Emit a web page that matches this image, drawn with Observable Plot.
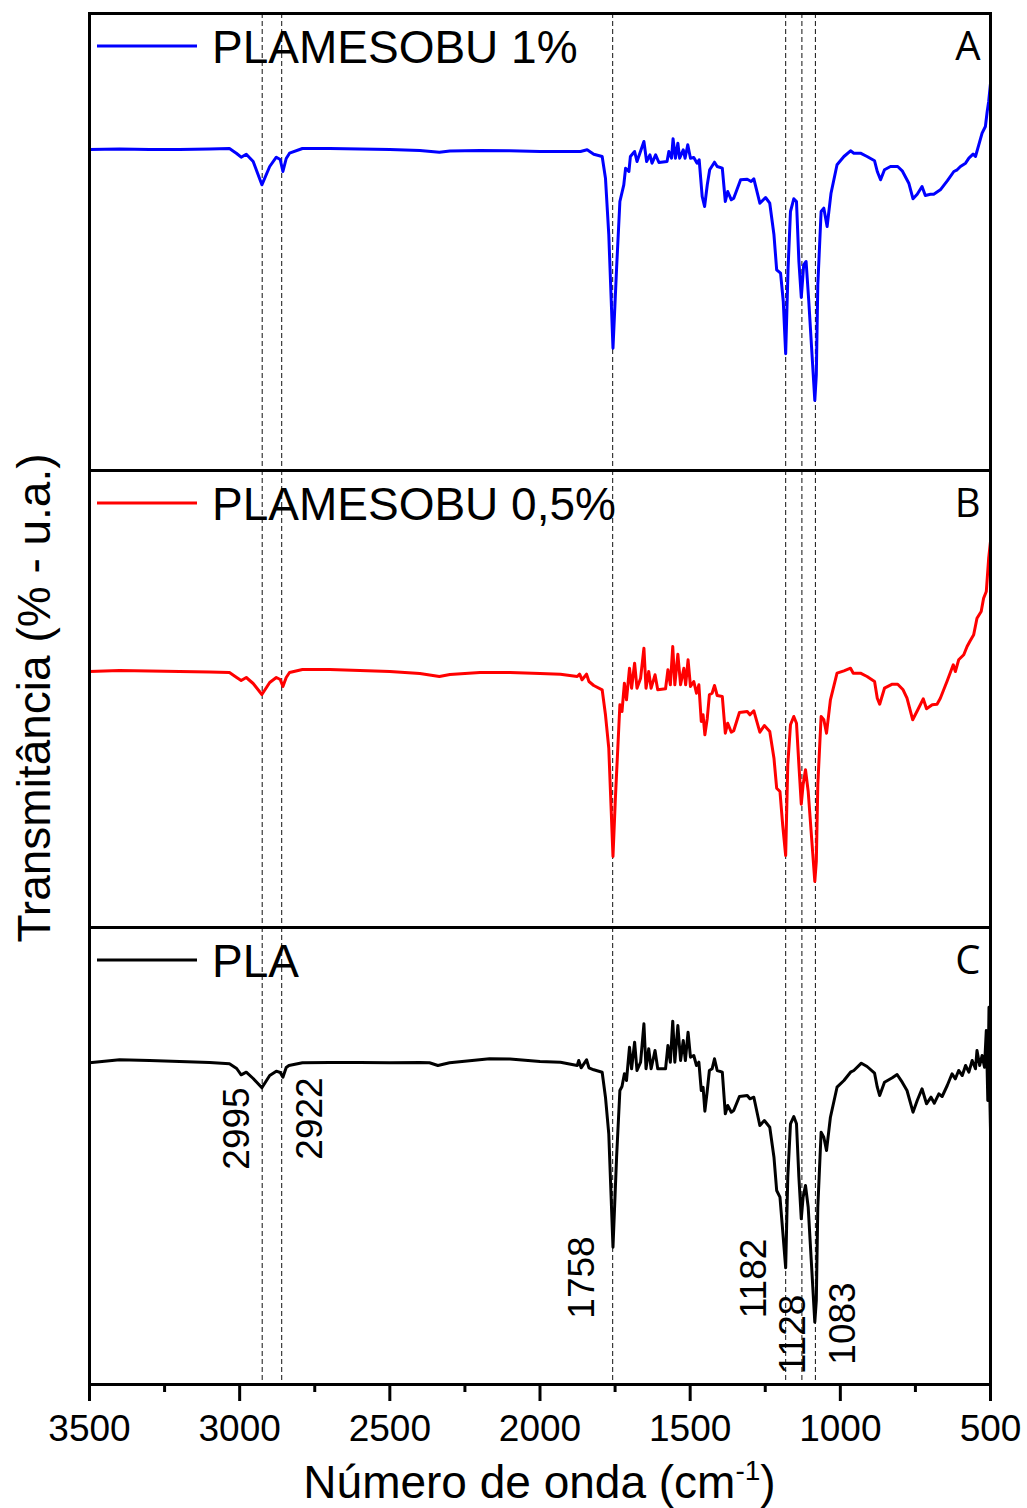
<!DOCTYPE html>
<html><head><meta charset="utf-8">
<script src="https://cdn.jsdelivr.net/npm/d3@7"></script>
<script src="https://cdn.jsdelivr.net/npm/@observablehq/plot@0.6"></script>
<style>body{margin:0;background:#fff}</style>
</head><body><div id="chart"></div>
<script>
const panels = ["A", "B", "C"];
const seriesNames = ["PLAMESOBU 1%", "PLAMESOBU 0,5%", "PLA"];
const seriesColors = ["#0000ff", "#ff0000", "#000000"];
const majorTicks = [3500, 3000, 2500, 2000, 1500, 1000, 500];
const minorTicks = [3250, 2750, 2250, 1750, 1250, 750];
const peakLines = [2925, 2860, 1758, 1182, 1128, 1083];
const annotLabels = ["2995", "2922", "1758", "1182", "1128", "1083"];
const annotX = [3007, 2764, 1858, 1286, 1156, 989];
const annotY = [256, 266, 107, 106, 50, 61];

// [wavenumber (cm-1), transmittance (u.a.)]
const specA = [[3500,321],[3400,321.5],[3300,321],[3200,321],[3100,321.5],[3034,322],[3010,317],[2995,313.3],[2978,316.3],[2955,309],[2926,285.7],[2900,304],[2878,313.3],[2865,311],[2856,299],[2845,312],[2834,317.3],[2791,322],[2700,322],[2600,321.5],[2500,321],[2400,320],[2335,318.3],[2300,319.5],[2200,320],[2101,319.7],[2000,319],[1932,319],[1865,319],[1843,320.7],[1821,316.3],[1793,314],[1782,292.3],[1771,236],[1757,122.3],[1745,202.3],[1734,269],[1721,285.7],[1715,302.3],[1704,299],[1699,314],[1685,319],[1677,309],[1654,329],[1645,309],[1634,315.7],[1627,307.3],[1615,315.7],[1604,308],[1577,309],[1571,319],[1562,312.3],[1557,331.7],[1549,312.3],[1541,327.3],[1535,312.3],[1523,320.7],[1517,312.3],[1508,325.7],[1499,312.3],[1488,313],[1477,307.3],[1470,310.7],[1460,274],[1452,264],[1443,285.7],[1435,300.7],[1419,308.3],[1410,304],[1393,302.3],[1383,269],[1375,279],[1363,270.7],[1355,272.3],[1332,290.7],[1310,291.3],[1297,289],[1288,291.7],[1268,267.3],[1249,273],[1235,267.3],[1221,235.7],[1212,200.7],[1199,197.3],[1190,169],[1182,116.7],[1174,202.3],[1166,259],[1155,271.7],[1146,269],[1138,209],[1130,173],[1122,205.7],[1114,209],[1105,169],[1085,70],[1080,95.7],[1075,185.7],[1064,259],[1055,262.3],[1044,244],[1031,277.3],[1011,305.7],[988,314],[966,319.7],[955,317.3],[933,317.3],[911,314],[886,309.7],[877,299],[866,290.7],[853,300.7],[833,304],[809,304],[794,299.7],[772,287.3],[758,271.7],[744,276.3],[728,284],[717,275],[700,276.3],[689,276.3],[667,280.7],[644,289.7],[622,299],[611,300.7],[600,304],[583,307.3],[572,312.3],[558,316.3],[550,314],[539,325.7],[528,337.3],[517,344],[511,359],[506,369],[500,387]];

const specB = [[3500,256],[3400,257],[3300,256.5],[3200,256],[3100,255.5],[3034,255],[3010,250],[2995,247],[2978,250],[2955,244],[2926,233],[2900,245],[2878,250],[2865,248],[2856,241],[2845,250],[2834,255],[2791,258],[2700,258],[2600,257],[2500,256],[2400,254],[2335,251],[2300,253],[2200,255],[2100,255],[2000,254],[1932,253.3],[1876,251],[1868,253.3],[1860,247.7],[1845,253.3],[1837,246],[1821,242],[1793,237.7],[1782,212.7],[1771,179.3],[1757,71],[1749,129.3],[1734,222.7],[1727,216],[1719,244.3],[1712,227.7],[1702,259.3],[1695,239.3],[1685,264.3],[1677,239.3],[1665,249.3],[1654,279.3],[1647,239.3],[1638,256],[1630,239.3],[1617,252.7],[1608,237.7],[1582,238.7],[1574,257.7],[1566,242.7],[1558,281],[1551,242.7],[1541,273.3],[1532,242.7],[1521,259.3],[1515,242.7],[1507,267.7],[1499,241],[1488,246],[1479,234.3],[1471,242.7],[1463,206],[1457,212.7],[1451,192.7],[1443,209.3],[1436,232.7],[1427,234.3],[1419,242],[1410,232],[1393,231],[1383,194.3],[1375,204.3],[1363,195.3],[1355,196.7],[1336,215],[1310,216],[1301,212.7],[1288,216.7],[1268,195.3],[1253,202],[1235,196],[1221,169.3],[1212,139.3],[1201,136],[1192,102.7],[1182,72],[1175,162.7],[1166,202.7],[1155,211],[1146,204.3],[1138,162.7],[1130,123.3],[1124,142.7],[1116,157.7],[1107,136],[1085,46],[1080,66],[1075,142.7],[1064,211],[1055,207.7],[1046,194.3],[1033,227.7],[1011,254.3],[988,256.7],[966,259.3],[957,254.3],[933,254.3],[911,251],[886,246],[877,229.3],[869,223.3],[853,239.3],[827,243.3],[809,243.3],[791,237.7],[778,229.3],[759,207.7],[742,217.7],[724,228.7],[713,218.7],[694,222.7],[678,223.3],[667,229.3],[644,246.7],[624,262.7],[617,256],[606,267.7],[589,272.7],[578,281],[569,286],[556,292.7],[545,309.3],[531,316],[523,329.3],[514,336],[506,369.3],[500,386]];

const specC = [[3500,321.7],[3400,324.7],[3300,324],[3200,323],[3100,322],[3034,320.7],[3010,316],[2995,309.7],[2978,312.3],[2955,306],[2926,296.7],[2900,309],[2878,313.3],[2865,312],[2856,307.3],[2845,317],[2836,319],[2791,321.7],[2700,322],[2600,322],[2500,321.7],[2400,322],[2368,321.7],[2340,319],[2301,321.7],[2168,325.7],[2100,325.5],[2000,323],[1932,322.3],[1876,319],[1871,324],[1863,316.7],[1845,324.7],[1837,316.7],[1821,314.7],[1793,312.3],[1782,287.3],[1771,250.7],[1757,137.3],[1745,227.3],[1734,294],[1727,298],[1719,310.7],[1712,304],[1702,337.3],[1695,315.7],[1685,342.3],[1677,314],[1665,322.3],[1654,360.7],[1647,315.7],[1638,335.7],[1630,315.7],[1617,334],[1608,315.7],[1582,315.7],[1574,339],[1566,322.3],[1558,363.3],[1551,322.3],[1541,359],[1532,324],[1523,344],[1516,324],[1507,352.3],[1499,327.3],[1488,329],[1479,319],[1471,322.3],[1463,294],[1457,297.3],[1451,273.3],[1443,294],[1436,314],[1427,315.7],[1419,325.7],[1410,314],[1393,312.3],[1383,270.7],[1375,279],[1363,272.3],[1355,274],[1336,288],[1310,289],[1301,285.7],[1288,287.3],[1268,259],[1253,264],[1235,257.3],[1221,227.3],[1212,194],[1201,187.3],[1192,154],[1182,116.7],[1175,207.3],[1166,260.7],[1155,268],[1146,260.7],[1138,207.3],[1130,165.7],[1124,187.3],[1116,199],[1107,177.3],[1085,62.3],[1080,84],[1075,177.3],[1064,252.3],[1055,247.3],[1046,234],[1033,267.3],[1011,297.3],[988,304],[966,312.3],[955,314],[930,321.3],[911,318],[886,311.3],[877,297.3],[869,289],[853,302.3],[827,306.7],[811,310],[794,302.3],[778,294],[758,272.3],[744,284],[728,295.7],[713,280.7],[698,287.3],[687,281.3],[672,290.7],[661,288],[644,299],[628,310.7],[617,305.7],[606,314],[594,309],[583,319],[572,312.3],[561,324],[550,315.7],[545,334],[536,319],[528,329],[520,317.3],[514,354],[509,284],[505,377.3],[502,284],[500,254]];

const rows = [];
[specA, specB, specC].forEach((s, i) => s.forEach(([wn, t]) => rows.push({panel: panels[i], wn, t})));
const annots = annotLabels.map((label, i) => ({label, x: annotX[i], y: annotY[i]}));

const W = 1027, H = 1508, mL = 89, mR = 37, mT = 12, mB = 124;
const FONT = "'Liberation Sans', Arial, sans-serif";

const plot = Plot.plot({
  width: W, height: H, marginLeft: mL, marginRight: mR, marginTop: mT, marginBottom: mB,
  style: {fontFamily: FONT, background: "white", color: "black", overflow: "visible"},
  x: {domain: [3500, 500]},
  y: {domain: [0, 457], axis: null},
  fy: {domain: panels, padding: 0, axis: null},
  color: {domain: panels, range: seriesColors},
  marks: [
    Plot.ruleX(peakLines, {x: d => d, stroke: "#111", strokeWidth: 1, strokeDasharray: "5,3"}),
    Plot.line(rows, {x: "wn", y: "t", fy: "panel", stroke: "panel", z: "panel", strokeWidth: 3}),
    Plot.frame({stroke: "black", strokeWidth: 3}),
    Plot.axisX(minorTicks, {tickSize: 8, strokeWidth: 3, tickFormat: () => "", label: null}),
    Plot.axisX(majorTicks, {tickSize: 17, tickPadding: 13, strokeWidth: 3, fontSize: 37, tickFormat: d => String(d), label: null}),
    Plot.text(panels, {fy: d => d, text: d => d, frameAnchor: "top-right", dx: -10, dy: 18, lineAnchor: "top", fontSize: 40, fontFamily: "'Open Sans', sans-serif"}),
    Plot.text(annots, {x: "x", y: "y", text: "label", fy: () => "C", rotate: -90, fontSize: 37})
  ]
});

const svgNode = plot.tagName.toLowerCase() === "svg" ? plot : plot.querySelector("svg");
const svg = d3.select(svgNode);
const fyScale = plot.scale("fy");
panels.forEach((p, i) => {
  let top = fyScale.apply(p);
  if (top < mT) top += mT;
  svg.append("line").attr("x1", mL + 8).attr("x2", mL + 108)
    .attr("y1", top + 33).attr("y2", top + 33)
    .attr("stroke", seriesColors[i]).attr("stroke-width", 3);
  svg.append("text").attr("x", mL + 123).attr("y", top + 50)
    .attr("text-anchor", "start")
    .attr("font-size", 46).attr("font-family", FONT).attr("fill", "black")
    .text(seriesNames[i]);
});
svg.append("text")
  .attr("transform", `translate(50,${(mT + H - mB) / 2}) rotate(-90)`)
  .attr("text-anchor", "middle").attr("font-size", 46).attr("font-family", FONT).attr("fill", "black")
  .text("Transmitância (% - u.a.)");
const xt = svg.append("text")
  .attr("x", (mL + W - mR) / 2).attr("y", 1498)
  .attr("text-anchor", "middle").attr("font-size", 46).attr("font-family", FONT).attr("fill", "black");
xt.append("tspan").text("Número de onda (cm");
xt.append("tspan").attr("font-size", 28).attr("dy", -18).text("-1");
xt.append("tspan").attr("dy", 18).text(")");

document.getElementById("chart").appendChild(plot);
</script>
</body></html>
